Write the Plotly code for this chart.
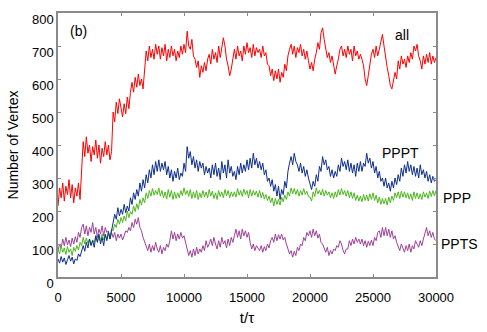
import numpy as np
import plotly.graph_objects as go

# time axis, one reading every 125 steps (t/tau)
t = np.arange(0, 30001, 125)

# number of vertices (16 readings per 2000 steps)
n_all = [
    215, 270, 240, 285, 230, 275, 250, 295, 240, 280, 225, 270, 245, 285, 235, 330,
    410, 365, 425, 375, 400, 350, 395, 370, 415, 360, 400, 345, 390, 365, 410, 370,
    400, 355, 380, 500, 470, 530, 495, 540, 505, 485, 525, 495, 545, 510, 560, 590,
    560, 605, 575, 615, 580, 600, 570, 625, 685, 655, 700, 665, 690, 660, 705, 675,
    700, 660, 695, 670, 705, 655, 690, 665, 700, 670, 690, 655, 685, 665, 700, 675,
    705, 680, 745, 700, 690, 720, 670, 660, 635, 655, 605, 640, 620, 650, 625, 660,
    675, 645, 690, 660, 680, 650, 700, 665, 690, 725, 700, 660, 640, 610, 630, 660,
    690, 660, 700, 670, 685, 655, 700, 675, 710, 680, 695, 665, 705, 670, 695, 680,
    690, 665, 700, 670, 680, 645, 640, 610, 630, 595, 625, 600, 630, 590, 620, 605,
    645, 625, 670, 690, 705, 675, 700, 665, 695, 680, 705, 670, 690, 660, 685, 655,
    630, 650, 625, 660, 680, 710, 690, 740, 755, 720, 690, 665, 680, 650, 670, 640,
    615, 640, 660, 690, 700, 670, 690, 665, 700, 675, 690, 655, 700, 670, 685, 660,
    675, 660, 640, 600, 580, 610, 650, 675, 690, 665, 700, 670, 690, 715, 735, 700,
    660, 635, 610, 580, 570, 595, 620, 600, 655, 630, 670, 645, 660, 635, 670, 650,
    680, 660, 700, 685, 705, 670, 655, 630, 670, 645, 675, 650, 680, 645, 670, 650,
    665]

n_pppt = [
    55, 42, 62, 45, 58, 38, 52, 65, 48, 60, 40, 55, 50, 70, 62, 80,
    95, 78, 105, 88, 115, 95, 110, 90, 125, 105, 130, 100, 120, 95, 130, 110,
    135, 115, 140, 165, 190, 175, 210, 185, 205, 190, 220, 195, 215, 200, 240, 220,
    255, 235, 265, 245, 285, 260, 295, 270, 310, 285, 325, 300, 340, 310, 350, 320,
    355, 320, 345, 325, 350, 310, 335, 300, 325, 290, 320, 300, 330, 295, 315, 305,
    345, 320, 395, 360, 380, 340, 365, 330, 355, 320, 350, 330, 345, 310, 335, 315,
    330, 300, 340, 310, 345, 305, 330, 295, 350, 315, 340, 300, 355, 315, 335, 305,
    320, 295, 335, 310, 345, 315, 340, 320, 355, 325, 360, 330, 375, 340, 360, 330,
    350, 325, 345, 310, 325, 290, 300, 275, 295, 260, 280, 245, 275, 235, 265, 250,
    290, 270, 320, 345, 365, 340, 375, 350, 340, 320, 345, 315, 335, 305, 325, 300,
    285, 265, 290, 275, 310, 290, 335, 320, 365, 340, 355, 325, 335, 305, 325, 300,
    320, 305, 340, 320, 360, 335, 350, 325, 355, 320, 345, 315, 340, 305, 345, 320,
    350, 320, 345, 335, 375, 345, 360, 330, 350, 315, 335, 300, 320, 290, 300, 275,
    300, 270, 285, 260, 290, 270, 300, 280, 310, 290, 330, 305, 340, 315, 350, 320,
    340, 310, 335, 305, 330, 300, 340, 310, 325, 300, 320, 290, 310, 285, 305, 290,
    295]

n_ppp = [
    85, 70, 95, 75, 88, 68, 92, 75, 85, 65, 90, 78, 95, 82, 105, 95,
    120, 100, 118, 102, 115, 98, 112, 105, 125, 108, 122, 110, 130, 112, 128, 115,
    135, 120, 145, 140, 160, 150, 175, 160, 180, 165, 185, 170, 200, 180, 198, 190,
    215, 198, 222, 205, 235, 218, 240, 225, 255, 238, 262, 245, 268, 248, 262, 250,
    270, 245, 262, 240, 258, 236, 265, 242, 262, 235, 258, 238, 255, 240, 262, 246,
    270, 250, 262, 244, 265, 238, 258, 240, 262, 235, 255, 240, 262, 242, 258, 240,
    265, 245, 260, 238, 255, 235, 262, 244, 258, 240, 265, 246, 262, 240, 258, 244,
    258, 242, 268, 248, 262, 244, 266, 250, 262, 240, 265, 245, 262, 248, 260, 242,
    262, 240, 256, 236, 250, 232, 245, 225, 240, 215, 238, 220, 235, 218, 242, 228,
    248, 235, 258, 245, 270, 252, 268, 250, 265, 245, 262, 248, 268, 250, 260, 244,
    242, 230, 258, 244, 270, 252, 262, 248, 266, 245, 262, 248, 258, 240, 255, 238,
    258, 242, 265, 248, 268, 250, 262, 245, 262, 240, 258, 238, 255, 232, 248, 230,
    245, 228, 250, 232, 248, 230, 252, 235, 255, 232, 248, 225, 242, 220, 238, 222,
    238, 218, 242, 225, 245, 232, 255, 240, 258, 238, 260, 242, 258, 240, 255, 236,
    252, 232, 258, 238, 255, 236, 252, 235, 258, 242, 255, 238, 260, 244, 262, 246,
    262]

n_ppts = [
    80, 100, 88, 115, 95, 120, 98, 112, 92, 118, 100, 122, 105, 135, 120, 150,
    160, 130, 155, 125, 150, 135, 165, 130, 150, 120, 145, 130, 155, 125, 150, 135,
    140, 115, 135, 120, 135, 110, 130, 118, 130, 112, 125, 140, 135, 150, 140, 165,
    150, 175, 160, 180, 150, 140, 120, 105, 95, 80, 100, 75, 95, 80, 105, 85,
    75, 95, 70, 90, 80, 100, 90, 110, 140, 115, 135, 110, 130, 115, 135, 118,
    125, 105, 85, 65, 80, 60, 85, 65, 90, 70, 85, 75, 95, 80, 110, 90,
    100, 115, 95, 120, 100, 85, 110, 90, 120, 100, 110, 88, 115, 95, 120, 105,
    125, 145, 120, 140, 115, 145, 125, 140, 120, 135, 105, 85, 100, 80, 95, 85,
    80, 95, 75, 92, 80, 100, 88, 110, 120, 105, 130, 110, 128, 115, 130, 112,
    120, 100, 85, 70, 80, 60, 78, 65, 90, 80, 100, 95, 120, 110, 135, 125,
    140, 120, 145, 125, 140, 118, 130, 105, 100, 85, 75, 90, 65, 80, 70, 85,
    80, 95, 90, 110, 100, 80, 70, 85, 85, 110, 95, 115, 100, 120, 105, 115,
    100, 115, 95, 110, 90, 108, 95, 112, 95, 120, 110, 135, 140, 120, 150, 125,
    150, 125, 145, 120, 140, 115, 125, 105, 95, 80, 100, 85, 75, 95, 80, 100,
    75, 95, 85, 110, 100, 90, 110, 95, 115, 135, 150, 125, 140, 120, 135, 115,
    110]

for vals in (n_all, n_pppt, n_ppp, n_ppts):
    assert len(vals) == len(t), len(vals)

series = [
    ("PPTS", n_ppts, "#a0409a"),
    ("PPP", n_ppp, "#4cb81c"),
    ("PPPT", n_pppt, "#0d2e8e"),
    ("all", n_all, "#ff0000"),
]

fig = go.Figure()
for name, vals, col in series:
    fig.add_trace(go.Scatter(x=t, y=vals, mode="lines", name=name,
                             line=dict(color=col, width=1)))

font = "Liberation Sans, Arial, sans-serif"
labels = [
    ("(b)", 0.053, 0.932),
    ("all", 0.91, 0.917),
    ("PPPT", 0.905, 0.47),
    ("PPP", 1.056, 0.30),
    ("PPTS", 1.063, 0.125),
]
for txt, xp, yp in labels:
    fig.add_annotation(text=txt, x=xp, y=yp, xref="paper", yref="paper",
                       xanchor="center", yanchor="middle", showarrow=False,
                       font=dict(size=14, color="black", family=font))

axis_style = dict(showline=True, linecolor="#8a8a8a", linewidth=1.5, mirror="ticks",
                  ticks="inside", ticklen=3, tickcolor="#8a8a8a", showgrid=False,
                  zeroline=False, automargin=False,
                  tickfont=dict(size=13, color="black", family=font))

xticks = list(range(0, 30001, 5000))
fig.update_xaxes(range=[0, 30000], tickvals=xticks, ticktext=[str(v) for v in xticks],
                 ticklabelstandoff=8,
                 title=dict(text="t/τ", font=dict(size=15, color="black", family=font),
                            standoff=8),
                 **axis_style)
# the source figure prints the y labels a few pixels below their ticks
fig.update_yaxes(range=[0, 800], tickvals=list(range(0, 801, 100)), ticklabelshift=6,
                 title=dict(text="Number of Vertex",
                            font=dict(size=14, color="black", family=font), standoff=10),
                 **axis_style)

fig.update_layout(width=487, height=332, showlegend=False,
                  margin=dict(l=58, r=51, t=13, b=55),
                  plot_bgcolor="white", paper_bgcolor="white")

# drop the browser's default page margin so the figure sits at the window corner
fig.write_html("out.html", config={"displayModeBar": False},
               post_script="document.body.style.margin='0';")
